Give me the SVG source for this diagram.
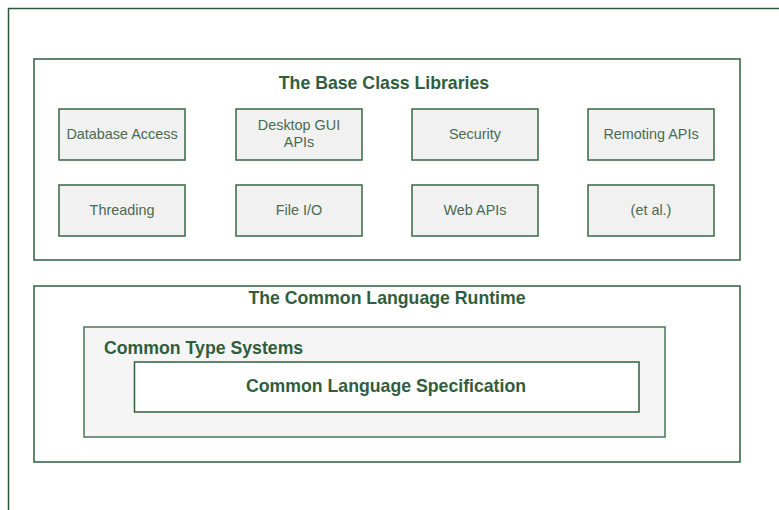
<svg xmlns="http://www.w3.org/2000/svg" width="779" height="510" viewBox="0 0 779 510">
<style>
.frame{fill:#ffffff;stroke:#2f5f3c;stroke-width:1.5}
.sm{fill:#f1f1f1;stroke:#3a6646;stroke-width:1.5}
.cts{fill:#f5f5f5;stroke:#4a7656;stroke-width:1.5}
.cls{fill:#ffffff;stroke:#2f5f3c;stroke-width:1.5}
.t{font-family:"Liberation Sans",Arial,sans-serif;font-weight:bold;font-size:17.7px;fill:#2f5e3d}
.s{font-family:"Liberation Sans",Arial,sans-serif;font-size:14.4px;fill:#4a6a52;text-anchor:middle}
</style>
<g id="outer"><path d="M8.5 510 V8.5 H779" fill="none" stroke="#2a5a37" stroke-width="1.5"/></g>
<g id="bcl">
<rect class="frame" x="34" y="59" width="706" height="201"/>
<text class="t" x="384" y="89" text-anchor="middle">The Base Class Libraries</text>
</g>
<g id="db"><rect class="sm" x="59" y="109" width="126" height="51"/><text class="s" x="122" y="139">Database Access</text></g>
<g id="gui"><rect class="sm" x="236" y="109" width="126" height="51"/><text class="s" x="299" y="130">Desktop GUI</text><text class="s" x="299" y="147">APIs</text></g>
<g id="sec"><rect class="sm" x="412" y="109" width="126" height="51"/><text class="s" x="475" y="139">Security</text></g>
<g id="rem"><rect class="sm" x="588" y="109" width="126" height="51"/><text class="s" x="651" y="139">Remoting APIs</text></g>
<g id="thr"><rect class="sm" x="59" y="185" width="126" height="51"/><text class="s" x="122" y="215">Threading</text></g>
<g id="fio"><rect class="sm" x="236" y="185" width="126" height="51"/><text class="s" x="299" y="215">File I/O</text></g>
<g id="web"><rect class="sm" x="412" y="185" width="126" height="51"/><text class="s" x="475" y="215">Web APIs</text></g>
<g id="etal"><rect class="sm" x="588" y="185" width="126" height="51"/><text class="s" x="651" y="215">(et al.)</text></g>
<g id="clr">
<rect class="frame" x="34" y="286" width="706" height="176"/>
<text class="t" x="387" y="304" text-anchor="middle">The Common Language Runtime</text>
</g>
<g id="cts">
<rect class="cts" x="84" y="327" width="581" height="110"/>
<text class="t" x="104" y="354">Common Type Systems</text>
</g>
<g id="cls">
<rect class="cls" x="134.5" y="362" width="504.5" height="50"/>
<text class="t" x="386" y="392" text-anchor="middle">Common Language Specification</text>
</g>
<g id="connectors"/>
</svg>
